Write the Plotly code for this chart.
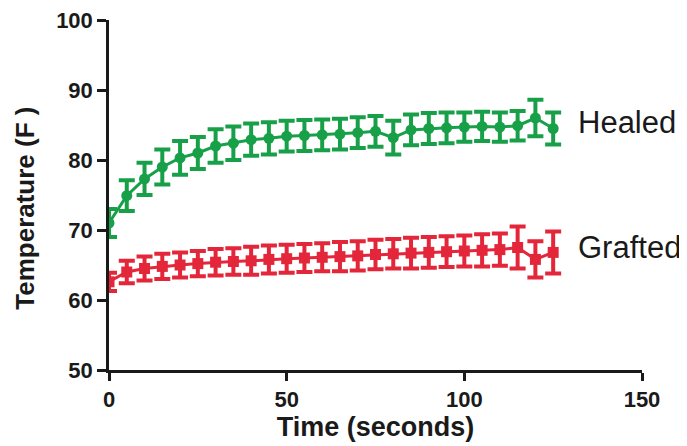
import plotly.graph_objects as go

# time points (seconds)
time_s = [0, 5, 10, 15, 20, 25, 30, 35, 40, 45, 50, 55, 60, 65, 70, 75,
          80, 85, 90, 95, 100, 105, 110, 115, 120, 125]

healed_mean = [71.0, 74.9, 77.3, 79.0, 80.3, 81.0, 82.0, 82.4, 82.9, 83.1, 83.4, 83.5, 83.6,
               83.7, 83.9, 84.1, 83.2, 84.3, 84.5, 84.6, 84.7, 84.8, 84.7, 84.9, 86.0, 84.5]
healed_err = [2.0, 2.2, 2.3, 2.5, 2.4, 2.3, 2.4, 2.4, 2.3, 2.3, 2.2, 2.2, 2.2,
              2.2, 2.2, 2.2, 2.4, 2.2, 2.2, 2.2, 2.1, 2.1, 2.1, 2.1, 2.6, 2.3]

grafted_mean = [62.6, 64.0, 64.5, 64.8, 65.0, 65.2, 65.4, 65.5, 65.6, 65.8, 65.9, 66.0, 66.1,
                66.2, 66.3, 66.5, 66.6, 66.7, 66.8, 66.9, 67.0, 67.1, 67.2, 67.5, 65.8, 66.8]
grafted_err = [1.3, 1.6, 1.7, 1.8, 1.8, 1.8, 1.9, 1.9, 2.0, 2.0, 2.0, 2.0, 2.0,
               2.1, 2.1, 2.1, 2.1, 2.2, 2.2, 2.2, 2.2, 2.3, 2.3, 3.0, 2.6, 3.0]

green = "#18a049"
red = "#e3263a"
ink = "#1a1a1a"
font = "Arial, Liberation Sans, sans-serif"

fig = go.Figure()

fig.add_trace(go.Scatter(
    x=time_s, y=healed_mean, mode="lines+markers",
    line=dict(color=green, width=3),
    marker=dict(symbol="circle", size=11, color=green),
    error_y=dict(type="data", array=healed_err, color=green, thickness=4, width=8),
    showlegend=False,
))

fig.add_trace(go.Scatter(
    x=time_s, y=grafted_mean, mode="lines+markers",
    line=dict(color=red, width=3),
    marker=dict(symbol="square", size=11, color=red),
    error_y=dict(type="data", array=grafted_err, color=red, thickness=4, width=8),
    showlegend=False,
))

# series labels at the line ends
fig.add_annotation(x=131.5, y=85.4, text="Healed", showarrow=False, xanchor="left",
                   font=dict(family=font, size=31, color=ink))
fig.add_annotation(x=131.5, y=67.5, text="Grafted", showarrow=False, xanchor="left",
                   font=dict(family=font, size=31, color=ink))

# y title placed by hand (it sits a bit below the axis centre in the original)
fig.add_annotation(xref="paper", yref="paper", x=-0.158, y=0.463,
                   text="<b>Temperature (F )</b>", textangle=-90, showarrow=False,
                   xanchor="center", yanchor="middle",
                   font=dict(family=font, size=26, color=ink))

fig.update_layout(
    width=687, height=446,
    margin=dict(l=101, r=53, t=12, b=84),
    plot_bgcolor="white", paper_bgcolor="white",
    font=dict(family=font, color=ink),
)

fig.update_xaxes(
    range=[0, 150], tickvals=[0, 50, 100, 150], automargin=False,
    showline=True, linecolor=ink, linewidth=2.5,
    ticks="outside", ticklen=8, tickwidth=2.5, tickcolor=ink,
    showgrid=False, zeroline=False, ticklabeloverflow="allow",
    tickfont=dict(family=font, size=22, weight="bold"),
    title=dict(text="<b>Time (seconds)</b>", font=dict(family=font, size=27), standoff=6),
)
fig.update_yaxes(
    range=[50, 100], tickvals=[50, 60, 70, 80, 90, 100], automargin=False,
    showline=True, linecolor=ink, linewidth=2.5,
    ticks="outside", ticklen=9, tickwidth=2.5, tickcolor=ink,
    showgrid=False, zeroline=False, ticklabeloverflow="allow",
    tickfont=dict(family=font, size=22, weight="bold"),
)

fig.write_html("out.html")
